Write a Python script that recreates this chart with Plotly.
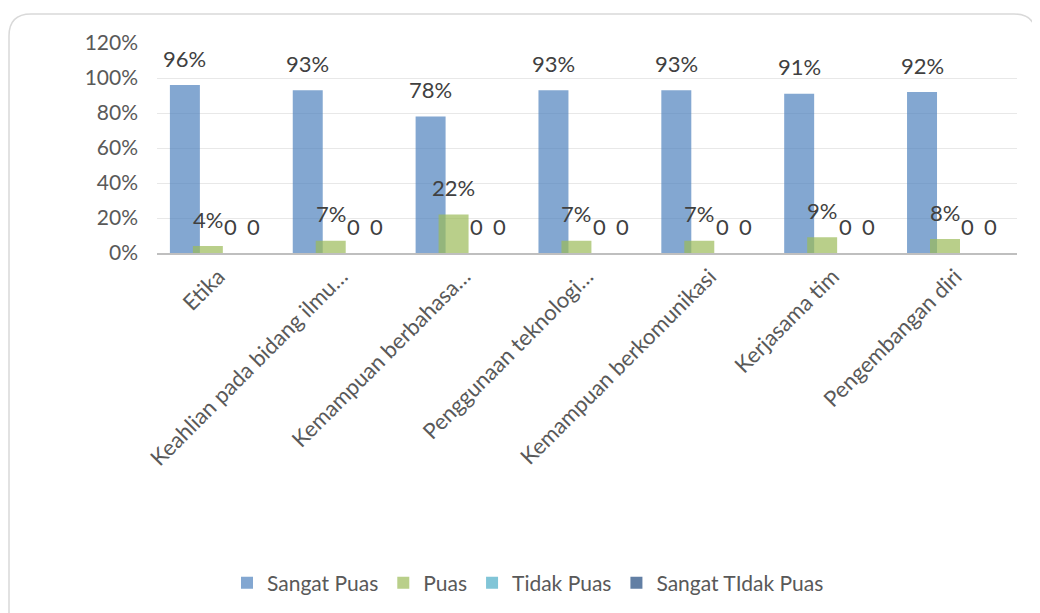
import plotly.graph_objects as go

categories = ["Etika", "Keahlian pada bidang ilmu…", "Kemampuan berbahasa…",
              "Penggunaan teknologi…", "Kemampuan berkomunikasi", "Kerjasama tim",
              "Pengembangan diri"]
sangat_puas = [0.96, 0.93, 0.78, 0.93, 0.93, 0.91, 0.92]
puas = [0.04, 0.07, 0.22, 0.07, 0.07, 0.09, 0.08]
tidak_puas = [0, 0, 0, 0, 0, 0, 0]
sangat_tidak_puas = [0, 0, 0, 0, 0, 0, 0]
y_ticks = [0, 0.2, 0.4, 0.6, 0.8, 1.0, 1.2]
y_tick_labels = ["0%", "20%", "40%", "60%", "80%", "100%", "120%"]

series = [
    ("Sangat Puas", sangat_puas, "rgba(79,129,189,0.7)", "pct"),
    ("Puas", puas, "rgba(155,187,89,0.7)", "pct"),
    ("Tidak Puas", tidak_puas, "rgba(75,172,198,0.7)", "num"),
    ("Sangat TIdak Puas", sangat_tidak_puas, "rgba(31,73,125,0.7)", "num"),
]

# page has an 8px body margin; figure sized to fit the 1040x613 window
PAGE_OFF = 8
W, H = 1040 - PAGE_OFF, 613 - PAGE_OFF
L, R, T, B = 157 - PAGE_OFF, 23, 43 - PAGE_OFF, 360
pw, ph = W - L - R, H - T - B

bar_w = 0.244
step = 0.187
first_off = -0.395

FONT = "Lato, 'Open Sans', sans-serif"
TXT = "#404040"
TICK = "#595959"

fig = go.Figure()
annotations = []
for k, (name, vals, color, fmt) in enumerate(series):
    off = first_off + k * step
    fig.add_trace(go.Bar(
        name=name, x=categories, y=vals, marker=dict(color=color, line=dict(width=0)),
        width=bar_w, offset=off,
    ))
    for i, v in enumerate(vals):
        label = f"{round(v*100)}%" if fmt == "pct" else f"{v:g}"
        annotations.append(dict(
            x=i + off + bar_w / 2, y=v, xref="x", yref="y", text=label,
            showarrow=False, yanchor="middle", yshift=27,
            font=dict(family=FONT, size=22, color=TXT),
        ))

# page pixel -> paper coordinates
def px(x):
    return (x - 157) / pw

def py(y):
    return (253 - y) / ph

x0, x1, y0, y1, r = 9, 1036, 14, 640, 22
path = (f"M {px(x0+r)},{py(y0)} L {px(x1-r)},{py(y0)} Q {px(x1)},{py(y0)} {px(x1)},{py(y0+r)} "
        f"L {px(x1)},{py(y1-r)} Q {px(x1)},{py(y1)} {px(x1-r)},{py(y1)} "
        f"L {px(x0+r)},{py(y1)} Q {px(x0)},{py(y1)} {px(x0)},{py(y1-r)} "
        f"L {px(x0)},{py(y0+r)} Q {px(x0)},{py(y0)} {px(x0+r)},{py(y0)} Z")

fig.update_layout(
    width=W, height=H,
    margin=dict(l=L, r=R, t=T, b=B, autoexpand=False),
    barmode="overlay",
    paper_bgcolor="white", plot_bgcolor="white",
    font=dict(family=FONT, color=TICK),
    showlegend=True,
    legend=dict(orientation="h", x=px(528), y=py(583), xanchor="center", yanchor="middle",
                font=dict(family=FONT, size=21, color=TICK), itemwidth=30,
                traceorder="normal"),
    annotations=annotations,
    shapes=[dict(type="path", path=path, xref="paper", yref="paper",
                 line=dict(color="#d9d9d9", width=1.5), layer="below")],
    xaxis=dict(type="category", tickangle=-45, tickfont=dict(family=FONT, size=22, color=TICK),
               showline=True, linecolor="#bfbfbf", linewidth=2, ticks="",
               showgrid=False, range=[-0.5, len(categories) - 0.5], automargin=False),
    yaxis=dict(range=[0, 1.2], tickvals=y_ticks, ticktext=y_tick_labels,
               tickfont=dict(family=FONT, size=21, color=TICK),
               showgrid=True, gridcolor="#e8e8e8", gridwidth=1, zeroline=False,
               showline=False, ticks="", ticklabelstandoff=18, automargin=False),
)

fig.write_html("out.html")
